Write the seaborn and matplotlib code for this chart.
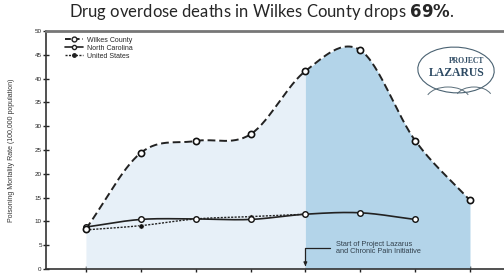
import numpy as np
import pandas as pd
import matplotlib
matplotlib.use('Agg')
import matplotlib.pyplot as plt
from matplotlib.patches import Ellipse, Arc
from matplotlib.lines import Line2D
import seaborn as sns

# data
years = [2004, 2005, 2006, 2007, 2008, 2009, 2010, 2011]
wilkes = [8.4, 24.4, 26.9, 28.3, 41.6, 46.0, 27.0, 14.4]
nc_years = [2004, 2005, 2006, 2007, 2008, 2009, 2010]
nc = [8.8, 10.4, 10.5, 10.4, 11.5, 11.8, 10.4]
us_years = [2004, 2005, 2006, 2007, 2008]
us = [8.2, 9.1, 10.5, 11.0, 11.5]
project_start = 2008


def smooth(x, y, n=30):
    # catmull-rom through the points, just for drawing
    x = np.asarray(x, float)
    y = np.asarray(y, float)
    px = np.r_[2 * x[0] - x[1], x, 2 * x[-1] - x[-2]]
    py = np.r_[2 * y[0] - y[1], y, 2 * y[-1] - y[-2]]
    xs, ys = [], []
    t = np.linspace(0, 1, n, endpoint=False)
    for i in range(1, len(px) - 2):
        for p, out in ((px, xs), (py, ys)):
            p0, p1, p2, p3 = p[i - 1], p[i], p[i + 1], p[i + 2]
            out.extend(0.5 * (2 * p1 + (-p0 + p2) * t + (2 * p0 - 5 * p1 + 4 * p2 - p3) * t ** 2
                              + (-p0 + 3 * p1 - 3 * p2 + p3) * t ** 3))
    xs.append(x[-1])
    ys.append(y[-1])
    return np.array(xs), np.array(ys)


sns.set_style('ticks')
plt.rcParams['font.family'] = ['Liberation Sans', 'DejaVu Sans']

fig = plt.figure(figsize=(5.04, 2.73), dpi=100)
ax = fig.add_axes([0.091, 0.015, 0.909, 0.871])

wx, wy = smooth(years, wilkes)
nx, ny = smooth(nc_years, nc)
ux, uy = smooth(us_years, us)

# shaded areas under Wilkes curve
ax.fill_between(wx, 0, wy, where=wx <= project_start, color='#e7f0f8', lw=0)
ax.fill_between(wx, 0, wy, where=wx >= project_start, color='#b3d4e9', lw=0)

sns.lineplot(x=ux, y=uy, ax=ax, color='#222222', lw=1.0, linestyle=(0, (1.5, 1)), sort=False)
sns.lineplot(x=nx, y=ny, ax=ax, color='#222222', lw=1.2, sort=False)
sns.lineplot(x=wx, y=wy, ax=ax, color='#222222', lw=1.4, linestyle=(0, (4, 2)), sort=False)

sns.scatterplot(x=us_years, y=us, ax=ax, color='#111111', s=14, zorder=5)
sns.scatterplot(x=nc_years, y=nc, ax=ax, facecolor='white', edgecolor='#111111', linewidth=1.0, s=16, zorder=5)
sns.scatterplot(x=years, y=wilkes, ax=ax, facecolor='white', edgecolor='#111111', linewidth=1.2, s=20, zorder=6)

# legend
handles = [
    Line2D([], [], color='#222222', lw=1.4, linestyle=(0, (3, 1.5)), marker='o', mfc='white', ms=3.5),
    Line2D([], [], color='#222222', lw=1.2, marker='o', mfc='white', ms=3),
    Line2D([], [], color='#222222', lw=1.0, linestyle=(0, (1.5, 1)), marker='o', ms=2.5),
]
ax.legend(handles, ['Wilkes County', 'North Carolina', 'United States'], loc='upper left',
          bbox_to_anchor=(0.03, 1.0), frameon=False, fontsize=5, handlelength=2.5,
          labelspacing=0.15, handletextpad=0.6, borderpad=0.3)

ax.annotate('Start of Project Lazarus\nand Chronic Pain Initiative', xy=(project_start, 0.6),
            xytext=(project_start + 0.55, 4.3), fontsize=5.3, color='#33414d', va='center',
            linespacing=1.0,
            arrowprops=dict(arrowstyle='-|>', color='#222222', lw=0.9, mutation_scale=5,
                            connectionstyle='angle,angleA=0,angleB=90,rad=0', shrinkA=2, shrinkB=0))

ax.set_xlim(2003.27, 2011.62)
ax.set_ylim(0, 50)
ax.set_yticks(range(0, 51, 5))
ax.set_xticks(years)
ax.tick_params(axis='both', direction='inout', length=4, width=1, labelsize=4.5, colors='#222222', pad=1)
ax.set_ylabel('Poisoning Mortality Rate (100,000 population)', fontsize=5, labelpad=14, color='#333333')
ax.spines['right'].set_visible(False)
ax.spines['left'].set_color('#333333')
ax.spines['left'].set_linewidth(1.2)
ax.spines['bottom'].set_color('#333333')
ax.spines['bottom'].set_linewidth(1.2)
ax.spines['top'].set_color('#777777')
ax.spines['top'].set_linewidth(2.0)

# logo
tr = fig.transFigure
fig.patches.append(Ellipse((456 / 504, 1 - 70 / 273), 76 / 504, 46 / 273, angle=12, transform=tr,
                           fill=False, edgecolor='#4a6272', lw=0.8))
fig.patches.append(Arc((448 / 504, 1 - 100 / 273), 44 / 504, 26 / 273, theta1=25, theta2=155,
                       transform=tr, edgecolor='#5a6e7a', lw=0.7))
fig.patches.append(Arc((474 / 504, 1 - 98 / 273), 36 / 504, 22 / 273, theta1=25, theta2=155,
                       transform=tr, edgecolor='#5a6e7a', lw=0.7))
fig.text(467 / 504, 1 - 61 / 273, 'PROJECT', fontsize=5.5, family='Liberation Serif', weight='bold',
         color='#2d4a63', ha='center', va='center')
fig.text(457 / 504, 1 - 73 / 273, 'LAZARUS', fontsize=8.5, family='Liberation Serif', weight='bold',
         color='#2d4a63', ha='center', va='center')

fig.text(0.52, 0.955, 'Drug overdose deaths in Wilkes County drops $\\mathbf{69\\%}$.',
         ha='center', va='center', fontsize=12, family='Lato')

fig.savefig('out.png', dpi=100)
